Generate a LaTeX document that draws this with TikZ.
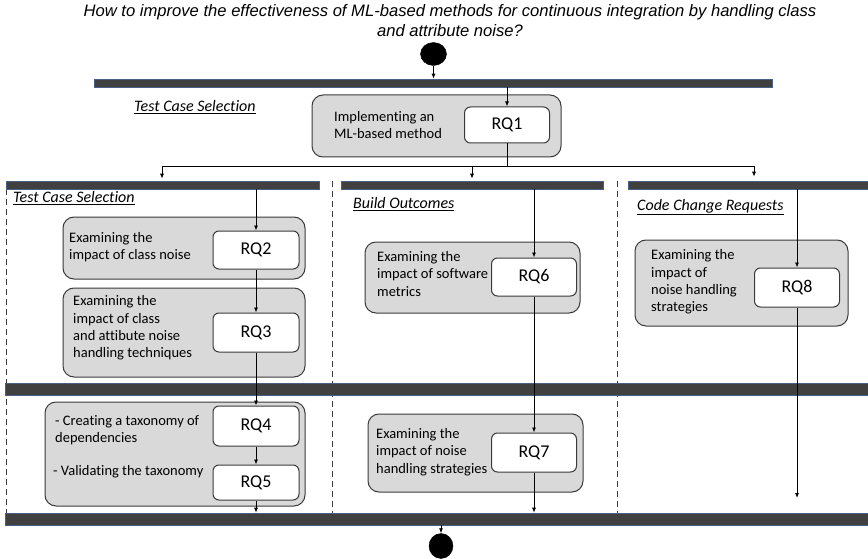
\documentclass[tikz,border=0pt]{standalone}
\usepackage{fontspec}
\setmainfont{Carlito}[Ligatures=NoCommon]
\newfontfamily\titlefont{Liberation Sans}
\usetikzlibrary{arrows.meta,shapes.geometric}
\definecolor{boxgray}{HTML}{D9D9D9}
\definecolor{bardark}{HTML}{404040}
\definecolor{baredge}{HTML}{4A5F86}
\definecolor{edgedark}{HTML}{3A3A3A}
\begin{document}
\begin{tikzpicture}[x=1pt,y=-1pt,
 outerbox/.style={draw=edgedark, line width=1pt, fill=boxgray, rounded corners=11pt, inner sep=0pt},
 innerbox/.style={draw=edgedark, line width=1pt, fill=white, rounded corners=6pt, inner sep=0pt, font=\fontsize{18}{20}\selectfont},
 bodytext/.style={anchor=west, align=left, inner sep=0pt, font=\fontsize{14.5}{17.3}\selectfont},
 lanelabel/.style={anchor=west, inner sep=0pt, font=\fontsize{16}{18}\selectfont\itshape},
 titletext/.style={anchor=base, inner sep=0pt, font=\titlefont\itshape\fontsize{16.6}{20}\selectfont},
 bar/.style={draw=baredge, line width=0.6pt, fill=bardark, inner sep=0pt},
 arr/.style={-{Latex[length=5pt,width=4pt]}, line width=0.8pt},
 conn/.style={line width=0.8pt},
 lanedash/.style={dash pattern=on 6pt off 4pt, line width=0.9pt, draw=edgedark},
 dot/.style={ellipse, fill=black, draw=black, inner sep=0pt},
]
\useasboundingbox (0,0) rectangle (868,559);

% title
\node[titletext] (title1) at (450,17) {How to improve the effectiveness of ML-based methods for continuous integration by handling class};
\node[titletext] (title2) at (450,37) {and attribute noise?};

% lane dashed lines
\draw[lanedash] (6,189) -- (6,513);
\draw[lanedash] (332,181) -- (332,513);
\draw[lanedash] (617,181) -- (617,513);

% bars
\node[bar, minimum width=678pt, minimum height=8pt] (topbar) at (433,83) {};
\node[bar, minimum width=313pt, minimum height=8pt] (barL) at (162.5,185) {};
\node[bar, minimum width=262pt, minimum height=8pt] (barC) at (472,185) {};
\node[bar, minimum width=244pt, minimum height=8pt] (barR) at (750,185) {};
\node[bar, minimum width=867pt, minimum height=12pt] (barMid) at (438.5,389) {};
\node[bar, minimum width=867pt, minimum height=12pt] (barB) at (438.5,519) {};

% start / end
\node[dot, minimum width=26pt, minimum height=23pt] (start) at (433.5,54) {};
\node[dot, minimum width=24pt, minimum height=25pt] (finish) at (441,546) {};

% lane labels
\node[lanelabel] (lblTop) at (134,107) {\underline{Test Case Selection}};
\node[lanelabel] (lblL) at (13,198) {\underline{Test Case Selection}};
\node[lanelabel] (lblC) at (353,204) {\underline{Build Outcomes}};
\node[lanelabel] (lblR) at (637,207) {\underline{Code Change Requests}};

% RQ1
\node[outerbox, minimum width=249pt, minimum height=62pt] (o1) at (436.5,126) {};
\node[innerbox, minimum width=85pt, minimum height=36pt] (rq1) at (507,125) {RQ1};
\node[bodytext] (t1) at (334,125) {Implementing an\\ML-based method};

% RQ2
\node[outerbox, minimum width=242pt, minimum height=62pt] (o2) at (184,248) {};
\node[innerbox, minimum width=86pt, minimum height=38pt] (rq2) at (256,250) {RQ2};
\node[bodytext] (t2) at (69,247) {Examining the\\impact of class noise};

% RQ3
\node[outerbox, minimum width=242pt, minimum height=89pt] (o3) at (184,332.5) {};
\node[innerbox, minimum width=86pt, minimum height=39pt] (rq3) at (256,332.5) {RQ3};
\node[bodytext] (t3) at (73,328) {Examining the\\impact of class\\and attibute noise\\handling techniques};

% RQ4 / RQ5
\node[outerbox, minimum width=260pt, minimum height=104pt] (o45) at (175,454) {};
\node[innerbox, minimum width=86pt, minimum height=40pt] (rq4) at (256,426) {RQ4};
\node[innerbox, minimum width=86pt, minimum height=35pt] (rq5) at (256,482.5) {RQ5};
\node[bodytext] (t4) at (55,430.5) {- Creating a taxonomy of\\dependencies};
\node[bodytext] (t5) at (53,472) {- Validating the taxonomy};

% RQ6
\node[outerbox, minimum width=215pt, minimum height=71pt] (o6) at (472.5,277.5) {};
\node[innerbox, minimum width=85pt, minimum height=38pt] (rq6) at (534,277) {RQ6};
\node[bodytext] (t6) at (377,274) {Examining the\\impact of software\\metrics};

% RQ7
\node[outerbox, minimum width=215pt, minimum height=78pt] (o7) at (475.5,453) {};
\node[innerbox, minimum width=85pt, minimum height=39pt] (rq7) at (534,452.5) {RQ7};
\node[bodytext] (t7) at (376,452) {Examining the\\impact of noise\\handling strategies};

% RQ8
\node[outerbox, minimum width=213pt, minimum height=86pt] (o8) at (741.5,283) {};
\node[innerbox, minimum width=85pt, minimum height=39pt] (rq8) at (797,287.5) {RQ8};
\node[bodytext] (t8) at (651,282) {Examining the\\impact of\\noise handling\\strategies};

% split coordinates
\coordinate (sp) at (507,166);
\coordinate (spL) at (162,166);
\coordinate (spC) at (472,166);
\coordinate (spR) at (754,166);
\coordinate (endR) at (797,498);

% connectors
\draw[arr] (start.south) -- (start.south |- topbar.north);
\draw[arr] (rq1.north |- topbar.south) -- (rq1.north);
\draw[conn] (rq1.south) -- (sp);
\draw[conn] (spL) -- (spR);
\draw[arr, shorten >=2pt] (spL) -- (spL |- barL.north);
\draw[arr, shorten >=2pt] (spC) -- (spC |- barC.north);
\draw[arr, shorten >=4pt] (spR) -- (spR |- barR.north);

\draw[arr] (rq2.north |- barL.south) -- (rq2.north);
\draw[arr] (rq2.south) -- (rq3.north);
\draw[arr] (rq3.south) -- (rq4.north);
\draw[arr] (rq4.south) -- (rq5.north);
\draw[arr] (rq5.south) -- (rq5.south |- barB.north);

\draw[arr] (rq6.north |- barC.south) -- (rq6.north);
\draw[arr] (rq6.south) -- (rq7.north);
\draw[arr] (rq7.south) -- (rq7.south |- barB.north);

\draw[arr] (rq8.north |- barR.south) -- (rq8.north);
\draw[arr] (rq8.south) -- (endR);

\draw[arr] (finish.north |- barB.south) -- (finish.north);
\end{tikzpicture}
\end{document}
